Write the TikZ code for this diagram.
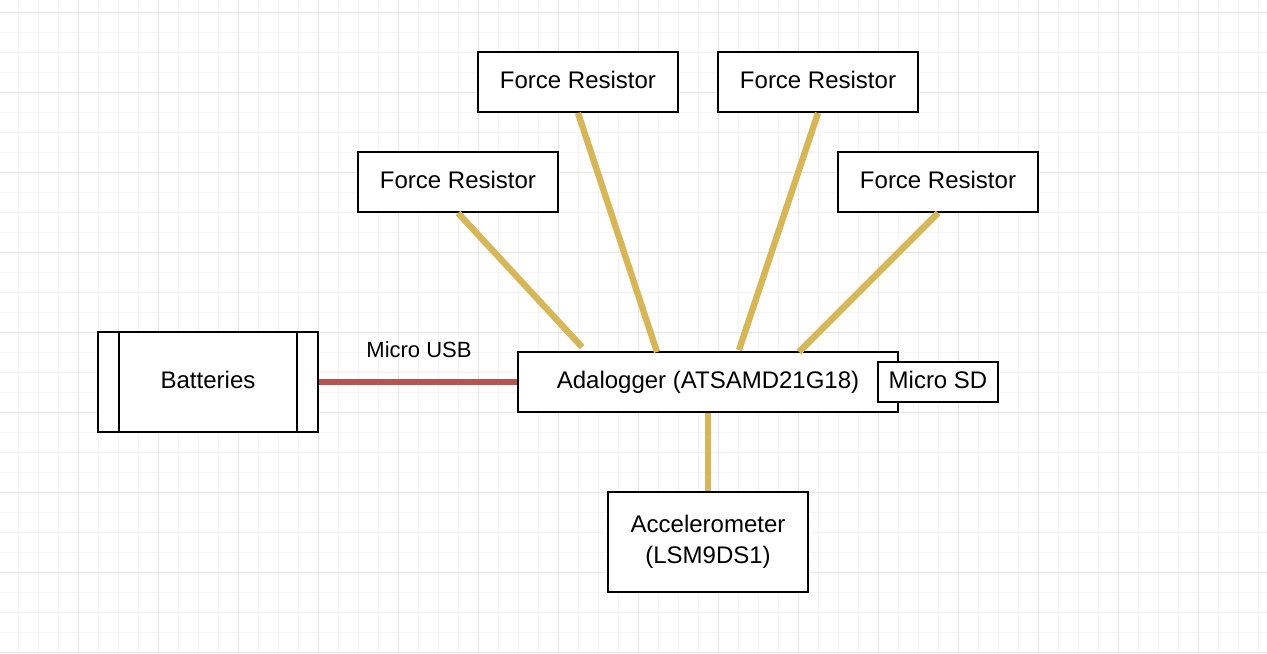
\documentclass[tikz,border=0pt]{standalone}
\usepackage{fontspec}
\setmainfont{Liberation Sans}
\usepackage{tikz}
\usetikzlibrary{calc}

\definecolor{wirered}{HTML}{B85450}
\definecolor{wireyellow}{HTML}{D6B656}
\definecolor{gridminor}{HTML}{F5F5F5}
\definecolor{gridmajor}{HTML}{E6E6E6}

\begin{document}
\begin{tikzpicture}[x=0.5pt,y=-0.5pt,
	part/.style={draw=black, line width=1pt, fill=white, inner sep=0pt,
		minimum width=100pt, minimum height=30pt, align=center,
		font=\fontsize{12}{15.5}\selectfont},
	oneline/.style={text height=8.8pt, text depth=2.6pt},
	wire/.style={line width=3.2pt, draw=wireyellow},
	usbwire/.style={line width=3.4pt, draw=wirered}]

	\useasboundingbox (0,0) rectangle (1267,653);
	\fill[white] (0,0) rectangle (1267,653);

	% background grid
	\foreach \x in {18,38,...,1258} \draw[gridminor, line width=0.5pt] (\x,0) -- (\x,653);
	\foreach \y in {12,32,...,652} \draw[gridminor, line width=0.5pt] (0,\y) -- (1267,\y);
	\foreach \x in {78,158,...,1238} \draw[gridmajor, line width=0.5pt] (\x,0) -- (\x,653);
	\foreach \y in {12,92,...,652} \draw[gridmajor, line width=0.5pt] (0,\y) -- (1267,\y);

	\node[part, oneline] (FR1) at (458,182) {Force Resistor};
	\node[part, oneline] (FR2) at (578,82) {Force Resistor};
	\node[part, oneline] (FR3) at (818,82) {Force Resistor};
	\node[part, oneline] (FR4) at (938,182) {Force Resistor};

	\node[part, oneline, minimum width=110pt, minimum height=50pt] (BAT) at (208,382) {Batteries};
	\draw[line width=1pt] ($(BAT.north west)+(22,0)$) -- ($(BAT.south west)+(22,0)$);
	\draw[line width=1pt] ($(BAT.north east)+(-22,0)$) -- ($(BAT.south east)+(-22,0)$);

	\node[part, oneline, minimum width=190pt] (ADA) at (708,382) {Adalogger (ATSAMD21G18)};
	\node[part, oneline, minimum width=60pt, minimum height=20pt] (SD) at (938,382) {Micro SD};

	\node[part, minimum height=50pt] (ACC) at (708,542) {Accelerometer\\(LSM9DS1)};

	\coordinate (A1) at (582,347);
	\coordinate (A2) at (657,352);
	\coordinate (A3) at (739,350);
	\coordinate (A4) at (799,352);

	\draw[wire] (FR1.south) -- (A1);
	\draw[wire] (FR2.south) -- (A2);
	\draw[wire] (FR3.south) -- (A3);
	\draw[wire] (FR4.south) -- (A4);
	\draw[wire] (ADA.south) -- (ACC.north);

	\draw[usbwire] (BAT.east) -- (ADA.west);
	\node[font=\fontsize{11}{13}\selectfont] (USB) at (419,350) {Micro USB};

\end{tikzpicture}
\end{document}
